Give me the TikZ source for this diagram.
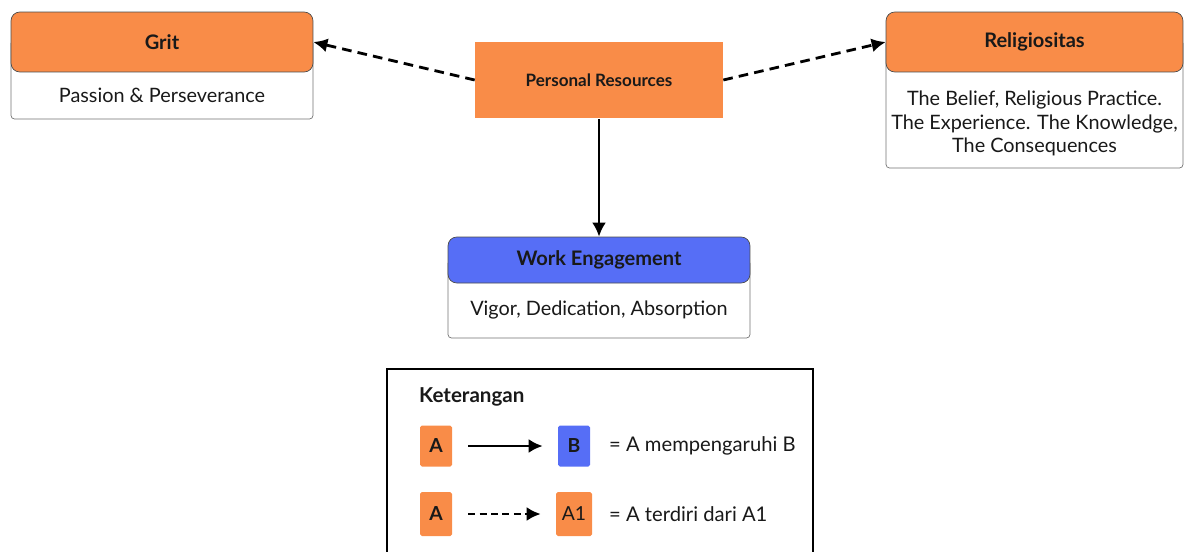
\documentclass[tikz,border=0pt]{standalone}
\usepackage{fontspec}
\setmainfont{Lato}
\usetikzlibrary{arrows.meta,positioning}
\definecolor{boxorange}{RGB}{249,140,72}
\definecolor{boxblue}{RGB}{86,110,246}

\begin{document}
\begin{tikzpicture}[x=0.02cm,y=-0.02cm,
    head/.style={draw=black!70,rounded corners=5pt,minimum height=1.2cm,
      font=\fontsize{11.4}{13}\selectfont\bfseries,text=black!90},
    frame/.style={draw=black!55,rounded corners=2pt,fill=white},
    bodytext/.style={font=\fontsize{11.3}{13.4}\selectfont,align=center,text=black!90},
    keybox/.style={rounded corners=1pt,minimum width=0.64cm,
      font=\fontsize{11}{12}\selectfont,text=black!90},
    keytext/.style={anchor=west,font=\fontsize{11.5}{13}\selectfont,text=black!90},
    dasharrow/.style={line width=1.6pt,dash pattern=on 5.5pt off 3.5pt,
      -{Latex[length=8pt,width=8pt]}},
    solidarrow/.style={line width=1.6pt,-{Latex[length=8pt,width=8pt]}}]
    \useasboundingbox (0,0) rectangle (1185,551);
    % Grit
    \draw[frame] (11,40) rectangle (313,119);
    \node[head,fill=boxorange,minimum width=6.04cm] (grit) at (162,42) {Grit};
    \node[bodytext] (gritt) at (162,95) {Passion \& Perseverance};
    % Religiositas
    \draw[frame] (886,40) rectangle (1183,168);
    \node[head,fill=boxorange,minimum width=5.94cm] (rel) at (1034.5,42) {Religiositas};
    \node[bodytext] (relt) at (1034.5,123.5) {The Belief, Religious Practice.\\
      The Experience. The Knowledge,\\ The Consequences};
    % Personal Resources
    \node[fill=boxorange,minimum width=4.96cm,minimum height=1.54cm,
      font=\fontsize{9.7}{11}\selectfont\bfseries,text=black!90] (pr) at (599,80) {Personal Resources};
    % Work Engagement
    \draw[frame] (448,260) rectangle (750,338);
    \node[head,fill=boxblue,minimum width=6.04cm,minimum height=0.92cm] (we) at (599,260) {Work Engagement};
    \node[bodytext] (wet) at (599,310) {Vigor, Dedication, Absorption};
    \draw[dasharrow] (pr.west) -- (grit.east);
    \draw[dasharrow] (pr.east) -- (rel.west);
    \draw[solidarrow] (pr.south) -- (we.north);
    % Keterangan
    \draw[line width=1.6pt] (387,369) rectangle (813,562);
    \node[keytext,font=\fontsize{11.7}{13}\selectfont\bfseries] (ket) at (413,397) {Keterangan};
    \node[keybox,fill=boxorange,minimum height=0.82cm,font=\fontsize{11}{12}\selectfont\bfseries] (ka) at (436,446) {A};
    \node[keybox,fill=boxblue,minimum height=0.82cm,font=\fontsize{11}{12}\selectfont\bfseries] (kb) at (574,446) {B};
    \node[keytext] (kat) at (603,446) {= A mempengaruhi B};
    \draw[solidarrow,shorten <=9pt,shorten >=8.5pt] (ka) -- (kb);
    \node[keybox,fill=boxorange,minimum height=0.88cm,font=\fontsize{11}{12}\selectfont\bfseries] (kc) at (436,514) {A};
    \node[keybox,fill=boxorange,minimum height=0.88cm] (kd) at (574,514) {A1};
    \node[keytext] (kdt) at (603,514) {= A terdiri dari A1};
    \draw[line width=1.6pt,dash pattern=on 4pt off 2.5pt,-{Latex[length=8pt,width=8pt]},
      shorten <=9pt,shorten >=8.5pt] (kc) -- (kd);
\end{tikzpicture}
\end{document}
